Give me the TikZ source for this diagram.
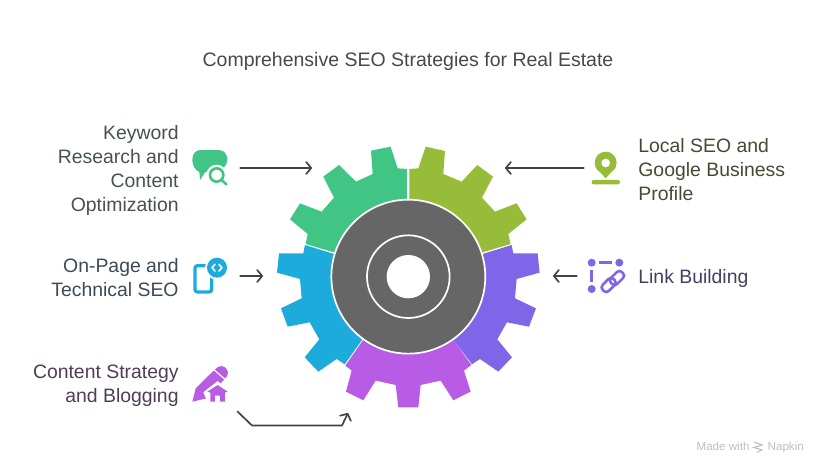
\documentclass[tikz,border=0pt]{standalone}
\usepackage{fontspec}
\setmainfont{Liberation Sans}
\usetikzlibrary{arrows.meta, positioning}
\definecolor{keygreen}{RGB}{64,197,132}
\definecolor{localolive}{RGB}{150,188,58}
\definecolor{linkviolet}{RGB}{127,102,232}
\definecolor{pageblue}{RGB}{29,171,220}
\definecolor{blogmagenta}{RGB}{184,92,229}
\definecolor{hubgray}{RGB}{102,102,102}
\definecolor{arrowgray}{RGB}{68,68,68}
\definecolor{titlegray}{RGB}{72,72,72}
\definecolor{keytext}{RGB}{70,82,75}
\definecolor{pagetext}{RGB}{60,74,86}
\definecolor{blogtext}{RGB}{80,60,88}
\definecolor{localtext}{RGB}{70,74,50}
\definecolor{linktext}{RGB}{68,62,96}
\definecolor{brandgray}{RGB}{190,190,190}
\tikzset{
  iconbox/.style={minimum width=58pt, minimum height=40pt, inner sep=0pt},
  label/.style={inner sep=0pt, yshift=-2pt, font=\fontsize{19.4}{24}\selectfont},
  leftlabel/.style={label, align=right, left=3pt of #1},
  rightlabel/.style={label, align=left, right=3pt of #1},
  arrow/.style={-{Straight Barb[length=5pt, width=12pt, line width=1.7pt, round]}, line width=1.7pt,
                color=arrowgray, line cap=round, line join=round},
  zoomed/.style={x=0.3333pt, y=-0.3333pt},
}
\begin{document}
\begin{tikzpicture}[x=1pt, y=-1pt]
  \useasboundingbox (0,0) rectangle (828,474);

  \node[font=\fontsize{19.5}{24}\selectfont, color=titlegray] (title) at (408,61)
        {Comprehensive SEO Strategies for Real Estate};

  % gear
  \begin{scope}[shift={(260,130)}, zoomed]
    \fill[keygreen] (441,440) -- (441,117) -- (413,115) -- (392,50) -- (333,62) -- (338,132) -- (288,155)
      -- (237,105) -- (190,140) -- (222,203) -- (185,245) -- (120,220) -- (90,268) -- (143,312)
      -- (137,342) -- (222,367) -- cycle;
    \fill[localolive] (448,440) -- (448,117) -- (475,115) -- (497,50) -- (555,63) -- (550,132) -- (605,155)
      -- (652,105) -- (699,140) -- (666,203) -- (705,245) -- (770,220) -- (800,268) -- (745,312)
      -- (752,342) -- (668,367) -- cycle;
    \fill[linkviolet] (445,440) -- (668,372) -- (755,345) -- (760,370) -- (833,370) -- (839,428) -- (770,447)
      -- (765,505) -- (828,535) -- (807,590) -- (741,577) -- (712,628) -- (756,682) -- (715,725)
      -- (660,687) -- (636,703) -- (582,632) -- cycle;
    \fill[pageblue] (445,440) -- (222,372) -- (135,345) -- (130,370) -- (57,370) -- (51,428) -- (120,447)
      -- (125,505) -- (63,535) -- (83,590) -- (149,577) -- (178,628) -- (134,682) -- (175,725)
      -- (230,687) -- (254,703) -- (306,630) -- cycle;
    \fill[blogmagenta] (445,440) -- (308,632) -- (256,707) -- (275,722) -- (258,785) -- (310,811) -- (347,752)
      -- (407,765) -- (415,832) -- (475,832) -- (482,765) -- (542,752) -- (580,811) -- (632,785)
      -- (612,722) -- (634,705) -- (582,632) -- cycle;
    \fill[hubgray, draw=white, line width=1.7pt] (445,440) circle (231);
    \draw[white, line width=1.7pt] (445,440) circle (124);
    \fill[white] (445,440) circle (65);
  \end{scope}

  % icons and labels, left side
  \node[iconbox] (keyicon) at (211,168) {};
  \node[leftlabel=keyicon, text=keytext] (keylabel)
        {Keyword\\Research and\\Content\\Optimization};
  \begin{scope}[shift={(180,140)}, zoomed]
    \fill[keygreen] (62,30) -- (116,30) .. controls (134,30) and (142,44) .. (142,60)
      .. controls (142,80) and (125,92) .. (100,92) -- (76,96) -- (60,120) -- (58,96)
      .. controls (45,90) and (37,76) .. (37,60) .. controls (37,42) and (46,30) .. (62,30) -- cycle;
    \fill[white] (110,105) circle (31);
    \draw[keygreen, line width=2.6pt] (110,105) circle (20);
    \draw[keygreen, line width=2.6pt, line cap=round] (124,119) -- (139,133);
  \end{scope}

  \node[iconbox] (pageicon) at (211,276) {};
  \node[leftlabel=pageicon, text=pagetext] (pagelabel) {On-Page and\\Technical SEO};
  \begin{scope}[shift={(180,250)}, zoomed]
    \draw[pageblue, line width=3.2pt, rounded corners=2.5pt] (45,47) rectangle (95,126);
    \fill[white] (111,53) circle (36);
    \fill[pageblue] (111,53) circle (30);
    \draw[white, line width=1.6pt, line cap=round, line join=round] (105,43) -- (96,53) -- (105,63);
    \draw[white, line width=1.6pt, line cap=round, line join=round] (117,43) -- (126,53) -- (117,63);
  \end{scope}

  \node[iconbox] (blogicon) at (211,384) {};
  \node[leftlabel=blogicon, text=blogtext] (bloglabel) {Content Strategy\\and Blogging};
  \begin{scope}[shift={(180,355)}, zoomed]
    \fill[blogmagenta] (37,140) -- (47,100) -- (104,44) .. controls (116,30) and (132,30) .. (140,42)
      .. controls (148,54) and (142,64) .. (134,72) -- (80,130) -- cycle;
    \draw[white, line width=1.2pt] (100,42) -- (138,76);
    \fill[white] (113,78) -- (70,112) -- (82,140) -- (145,140) -- (152,112) -- cycle;
    \fill[blogmagenta] (113,90) -- (82,110) -- (91,113) -- (91,140) -- (105,140) -- (105,122)
      -- (120,122) -- (120,140) -- (135,140) -- (135,113) -- (143,110) -- cycle;
  \end{scope}

  % icons and labels, right side
  \node[iconbox] (localicon) at (606,168) {};
  \node[rightlabel=localicon, text=localtext] (locallabel)
        {Local SEO and\\Google Business\\Profile};
  \begin{scope}[shift={(575,145)}, zoomed]
    \fill[localolive] (92,53) circle (33);
    \fill[localolive] (63,68) -- (92,100) -- (121,68) -- cycle;
    \fill[white] (92,54) circle (13);
    \fill[localolive, rounded corners=2pt] (50,105) rectangle (135,118);
  \end{scope}

  \node[iconbox] (linkicon) at (606,276) {};
  \node[rightlabel=linkicon, text=linktext] (linklabel) {Link Building};
  \begin{scope}[shift={(575,250)}, zoomed]
    \fill[linkviolet] (50,38) circle (12) (133,38) circle (12) (50,117) circle (12);
    \draw[linkviolet, line width=2.8pt] (72,38) -- (112,38) (50,60) -- (50,95);
    \draw[linkviolet, line width=2.6pt, rounded corners=3.5pt, rotate around={45:(101,105)}]
      (78,92) rectangle (124,118);
    \draw[linkviolet, line width=2.6pt, rounded corners=3.5pt, rotate around={45:(126,84)}]
      (103,71) rectangle (149,97);
  \end{scope}

  % arrows
  \coordinate (keytip) at (312,168);
  \coordinate (localtip) at (505,168);
  \coordinate (pagetip) at (263,276);
  \coordinate (linktip) at (553,276);
  \coordinate (blogstart) at (237.5,411.5);
  \coordinate (blogbend) at (252,425.5);
  \coordinate (blogturn) at (342,425.5);
  \coordinate (blogtip) at (348,413);
  \draw[arrow] (keyicon.east) -- (keytip);
  \draw[arrow] ([xshift=7pt]localicon.west) -- (localtip);
  \draw[arrow] (pageicon.east) -- (pagetip);
  \draw[arrow] (linkicon.west) -- (linktip);
  \draw[arrow] (blogstart) -- (blogbend) -- (blogturn) -- (blogtip);

  % brand mark
  \node[anchor=east, inner sep=0pt, font=\fontsize{11.6}{13}\selectfont, color=brandgray] (brand) at (804,447)
        {Made with \hspace{15pt}Napkin};
  \draw[brandgray, line width=1.1pt] (754,442) -- (762,445) -- (754,447.5) -- (762,450) -- (757,452.5);
\end{tikzpicture}
\end{document}
